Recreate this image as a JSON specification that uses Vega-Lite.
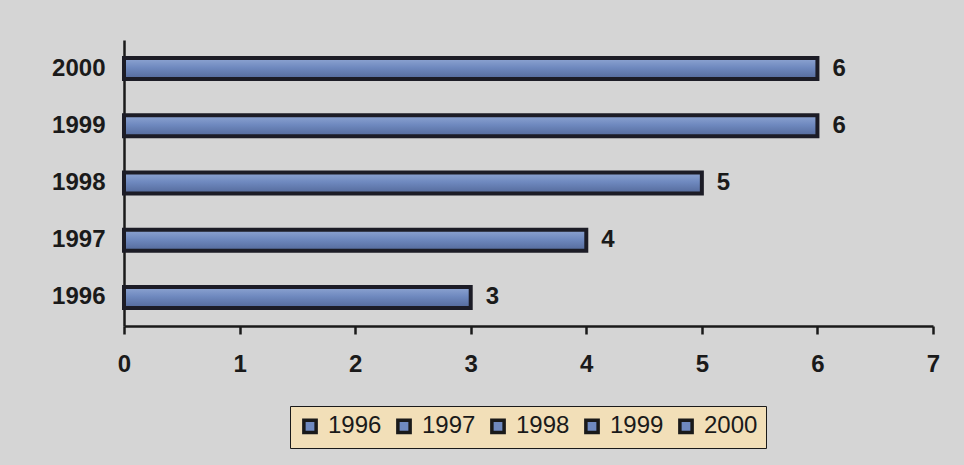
{
  "$schema": "https://vega.github.io/schema/vega-lite/v6.json",
  "width": 809,
  "height": 286,
  "autosize": {"type": "none"},
  "padding": {"left": 124, "top": 40, "right": 31, "bottom": 139},
  "background": "#d5d5d5",
  "config": {
    "view": {"stroke": null},
    "font": "Liberation Sans"
  },
  "data": {
    "values": [
      {"year": "1996", "value": 3},
      {"year": "1997", "value": 4},
      {"year": "1998", "value": 5},
      {"year": "1999", "value": 6},
      {"year": "2000", "value": 6}
    ]
  },
  "encoding": {
    "y": {
      "field": "year",
      "type": "nominal",
      "sort": "descending",
      "scale": {"paddingInner": 0, "paddingOuter": 0},
      "axis": {
        "title": null,
        "ticks": false,
        "grid": false,
        "domainColor": "#1a1a1a",
        "domainWidth": 2.5,
        "labelFont": "Liberation Sans",
        "labelFontWeight": "bold",
        "labelFontSize": 24,
        "labelColor": "#1a1a1a",
        "labelPadding": 19
      }
    },
    "x": {
      "field": "value",
      "type": "quantitative",
      "scale": {"domain": [0, 7], "nice": false},
      "axis": {
        "title": null,
        "values": [0, 1, 2, 3, 4, 5, 6, 7],
        "grid": false,
        "domainColor": "#1a1a1a",
        "domainWidth": 2.5,
        "tickColor": "#1a1a1a",
        "tickWidth": 2.5,
        "tickSize": 8,
        "labelFont": "Liberation Sans",
        "labelFontWeight": "bold",
        "labelFontSize": 24,
        "labelColor": "#1a1a1a",
        "labelPadding": 18,
        "labelFlush": false
      }
    }
  },
  "layer": [
    {
      "mark": {
        "type": "bar",
        "size": 21,
        "stroke": "#1c1c26",
        "strokeWidth": 4,
        "fill": {
          "gradient": "linear",
          "x1": 0, "y1": 0, "x2": 0, "y2": 1,
          "stops": [
            {"offset": 0, "color": "#8ea5d2"},
            {"offset": 0.45, "color": "#6f89bf"},
            {"offset": 1, "color": "#53699a"}
          ]
        }
      }
    },
    {
      "mark": {"type": "text", "align": "left", "baseline": "middle", "dx": 15, "fontSize": 24, "fontWeight": "bold", "color": "#1a1a1a"},
      "encoding": {"text": {"field": "value", "type": "quantitative"}}
    },
    {
      "mark": {"type": "point", "filled": true, "opacity": 0},
      "encoding": {
        "color": {
          "field": "year",
          "type": "nominal",
          "scale": {"range": ["#6f89bf", "#6f89bf", "#6f89bf", "#6f89bf", "#6f89bf"]},
          "legend": {
            "title": null,
            "orient": "none",
            "legendX": 166,
            "legendY": 366,
            "direction": "horizontal",
            "columns": 5,
            "columnPadding": 8,
            "padding": 8,
            "fillColor": "#f2dfb8",
            "strokeColor": "#1a1a1a",
            "symbolType": "square",
            "symbolSize": 150,
            "symbolOpacity": 1,
            "symbolStrokeColor": "#1a1a1a",
            "symbolStrokeWidth": 3.5,
            "labelFont": "Liberation Sans",
            "labelFontSize": 24,
            "labelColor": "#1a1a1a",
            "labelOffset": 6,
            "labelLimit": 0
          }
        }
      }
    }
  ]
}
